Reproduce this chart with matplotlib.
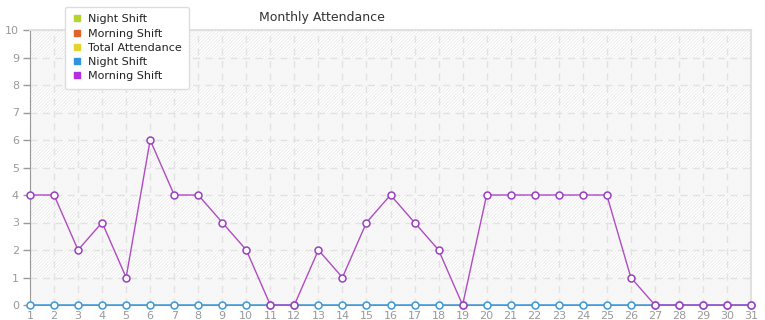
import matplotlib.pyplot as plt
from matplotlib.lines import Line2D
import numpy as np

days = list(range(1, 32))
night_shift = [0] * 31
morning_shift = [4, 4, 2, 3, 1, 6, 4, 4, 3, 2, 0, 0, 2, 1, 3, 4, 3, 2, 0,
                 4, 4, 4, 4, 4, 4, 1, 0, 0, 0, 0, 0]
legend_labels = ["Night Shift", "Morning Shift", "Total Attendance",
                 "Night Shift", "Morning Shift"]
legend_colors = ["#b4d42e", "#e0632c", "#e3d42c", "#2f93e0", "#b32fe0"]

plt.rcParams["hatch.linewidth"] = 0.7
plt.rcParams["hatch.color"] = "#ededed"

fig = plt.figure(figsize=(7.65, 3.2), dpi=100)
ax = fig.add_axes([30 / 765, 15 / 320, 721 / 765, 275 / 320])

# striped background: hatched bands alternate with flat light grey bands
ax.add_patch(plt.Rectangle((1, 0), 30, 10, facecolor="white", edgecolor="#ededed",
                           hatch="/" * 10, linewidth=0, zorder=0))
for b in range(0, 10, 2):
    ax.axhspan(b, b + 1, facecolor="#f7f7f7", alpha=0.92, linewidth=0, zorder=0.5)

for d in days:
    ax.axvline(d, color="#e2e2e2", linestyle=(0, (5, 4)), linewidth=1, zorder=1)
for v in range(1, 11):
    ax.axhline(v, color="#e2e2e2", linestyle=(0, (5, 4)), linewidth=1, zorder=1)

ax.plot(days, night_shift, color="#3f97d6", linewidth=1.1, marker="o",
        markersize=5, markerfacecolor="white", markeredgecolor="#3f97d6",
        markeredgewidth=1.1, zorder=3, clip_on=False)
ax.plot(days, morning_shift, color="#b04cc0", linewidth=1.0, marker="o",
        markersize=5, markerfacecolor="white", markeredgecolor="#9a3fc0",
        markeredgewidth=1.1, zorder=4, clip_on=False)

ax.set_xlim(1, 31)
ax.set_ylim(0, 10)
ax.set_xticks(days)
ax.set_yticks(range(0, 11))
ax.tick_params(axis="both", colors="#999999", labelsize=8, length=5, width=1)
ax.tick_params(axis="x", length=0, pad=4)
ax.tick_params(axis="y", pad=3)
for s in ["top", "right"]:
    ax.spines[s].set_color("#e0e0e0")
    ax.spines[s].set_linewidth(1.5)
ax.spines["left"].set_color("#999999")
ax.spines["bottom"].set_color("#999999")

fig.text(322 / 765, 1 - 17 / 320, "Monthly Attendance", ha="center", va="center",
         fontsize=9, color="#333333")

handles = [Line2D([], [], linestyle="none", marker="s", markersize=4,
                  color=c) for c in legend_colors]
leg = fig.legend(handles, legend_labels, loc="upper left",
                 bbox_to_anchor=(59 / 765, 1 - 1 / 320), fontsize=8,
                 frameon=True, fancybox=True, handlelength=0.8,
                 handletextpad=0.6, labelspacing=0.38, borderpad=0.7,
                 labelcolor="#222222")
leg.get_frame().set_edgecolor("#dddddd")
leg.get_frame().set_facecolor("white")
leg.get_frame().set_alpha(1)
leg.set_zorder(10)

fig.savefig("out.png", dpi=100)
